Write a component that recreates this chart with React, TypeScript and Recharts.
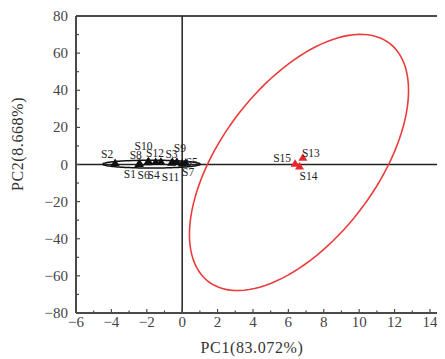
import React from 'react';
import {
  ScatterChart,
  Scatter,
  XAxis,
  YAxis,
  ReferenceLine,
  Label,
} from 'recharts';

// sample scores
const groupANames = ['S1', 'S2', 'S3', 'S4', 'S5', 'S6', 'S7', 'S8', 'S9', 'S10', 'S11', 'S12'];
const groupAPc1 = [-2.45, -3.79, -0.55, -1.5, 0.2, -1.95, 0.0, -2.4, -0.3, -1.9, -0.6, -1.2];
const groupAPc2 = [0.3, 0.8, 1.3, 1.3, 0.9, 1.2, 0.5, 0.6, 1.5, 1.8, 1.0, 1.5];

const groupBNames = ['S13', 'S14', 'S15'];
const groupBPc1 = [6.82, 6.63, 6.38];
const groupBPc2 = [3.6, -1.1, 0.4];

const xTicks = [-6, -5, -4, -3, -2, -1, 0, 1, 2, 3, 4, 5, 6, 7, 8, 9, 10, 11, 12, 13, 14];
const yTicks = [-80, -70, -60, -50, -40, -30, -20, -10, 0, 10, 20, 30, 40, 50, 60, 70, 80];

// confidence ellipses: centre, radii along x / y and phase between them
const ellipseA = { cx: -1.73, cy: 0.2, rx: 2.75, ry: 2.1, phase: Math.PI / 2 };
const ellipseB = { cx: 6.6, cy: 1.1, rx: 6.19, ry: 69, phase: 0.974 };

// where each sample label sits relative to its marker (px)
const labelOffsets: Record<string, [number, number]> = {
  S1: [-9, 10],
  S2: [-8, -9],
  S3: [-1, -8],
  S4: [-2, 13],
  S5: [6, -1],
  S6: [-4, 13],
  S7: [6, 8],
  S8: [-4, -8],
  S9: [3, -14],
  S10: [-5, -15],
  S11: [-1, 14],
  S12: [-6, -9],
  S13: [8, -5],
  S14: [9, 9],
  S15: [-13, -6],
};

const makeEllipse = (e: typeof ellipseA) => {
  const pts = [];
  for (let i = 0; i <= 120; i++) {
    const t = (i / 120) * Math.PI * 2;
    pts.push({ x: e.cx + e.rx * Math.cos(t), y: e.cy + e.ry * Math.cos(t - e.phase) });
  }
  return pts;
};

const groupA = groupANames.map((name, i) => ({ name, x: groupAPc1[i], y: groupAPc2[i] }));
const groupB = groupBNames.map((name, i) => ({ name, x: groupBPc1[i], y: groupBPc2[i] }));

const FONT = '"Liberation Serif", "DejaVu Serif", serif';
const AXIS = '#4a4a4a';

const fmt = (v: number) => (v < 0 ? `\u2212${Math.abs(v)}` : `${v}`);

const XTick = (props: any) => {
  const { x, y, payload } = props;
  const major = payload.value % 2 === 0;
  return (
    <g>
      <line x1={x} y1={y} x2={x} y2={y - (major ? 4 : 2.5)} stroke={AXIS} strokeWidth={1.2} />
      {major && (
        <text x={x} y={y + 14} textAnchor="middle" fontFamily={FONT} fontSize={15} fill="#444">
          {fmt(payload.value)}
        </text>
      )}
    </g>
  );
};

const YTick = (props: any) => {
  const { x, y, payload } = props;
  const major = payload.value % 20 === 0;
  return (
    <g>
      <line x1={x} y1={y} x2={x + (major ? 4 : 3)} y2={y} stroke={AXIS} strokeWidth={1.2} />
      {major && (
        <text x={x - 8} y={y + 5} textAnchor="end" fontFamily={FONT} fontSize={15} fill="#444">
          {fmt(payload.value)}
        </text>
      )}
    </g>
  );
};

const makeTriangle = (color: string) => (props: any) => {
  const { cx, cy, payload } = props;
  const [dx, dy] = labelOffsets[payload.name] || [0, -8];
  return (
    <g>
      <polygon
        points={`${cx},${cy - 4.5} ${cx - 4.5},${cy + 3} ${cx + 4.5},${cy + 3}`}
        fill={color}
      />
      <text
        x={cx + dx}
        y={cy + dy}
        textAnchor="middle"
        dominantBaseline="central"
        fontFamily={FONT}
        fontSize={11.5}
        fill="#222"
      >
        {payload.name}
      </text>
    </g>
  );
};

const NoDot = () => <g />;

const App: React.FC = () => {
  return (
    <ScatterChart width={437} height={351} margin={{ top: 8, right: 0, bottom: 0, left: 0 }}>
      <XAxis
        type="number"
        dataKey="x"
        domain={[-6, 14.85]}
        ticks={xTicks}
        interval={0}
        allowDataOverflow
        height={46}
        tickSize={0}
        tickMargin={0}
        tickLine={false}
        axisLine={{ stroke: AXIS, strokeWidth: 2 }}
        tick={<XTick />}
      >
        <Label
          content={() => (
            <text x={244} y={345} textAnchor="middle" fontFamily={FONT} fontSize={16} fill="#333" letterSpacing={0.6}>
              PC1(83.072%)
            </text>
          )}
        />
      </XAxis>
      <YAxis
        type="number"
        dataKey="y"
        domain={[-80, 80]}
        ticks={yTicks}
        interval={0}
        allowDataOverflow
        width={68}
        tickSize={0}
        tickMargin={0}
        tickLine={false}
        axisLine={{ stroke: AXIS, strokeWidth: 2 }}
        tick={<YTick />}
      >
        <Label
          content={() => (
            <text
              x={15}
              y={136}
              textAnchor="middle"
              fontFamily={FONT}
              fontSize={16}
              fill="#333"
              letterSpacing={0.6}
              transform="rotate(-90, 15, 136)"
            >
              PC2(8.668%)
            </text>
          )}
        />
      </YAxis>
      <ReferenceLine y={80} stroke={AXIS} strokeWidth={2} />
      <ReferenceLine y={0} stroke="#222" strokeWidth={1.5} />
      <ReferenceLine x={0} stroke="#222" strokeWidth={1.5} />
      <Scatter
        data={makeEllipse(ellipseB)}
        line={{ stroke: '#ec3b3b', strokeWidth: 1.6 }}
        lineType="joint"
        shape={NoDot}
        isAnimationActive={false}
        legendType="none"
      />
      <Scatter
        data={makeEllipse(ellipseA)}
        line={{ stroke: '#111', strokeWidth: 1.5 }}
        lineType="joint"
        shape={NoDot}
        isAnimationActive={false}
        legendType="none"
      />
      <Scatter data={groupA} shape={makeTriangle('#111')} isAnimationActive={false} />
      <Scatter data={groupB} shape={makeTriangle('#e8262c')} isAnimationActive={false} />
    </ScatterChart>
  );
};

export default App;
